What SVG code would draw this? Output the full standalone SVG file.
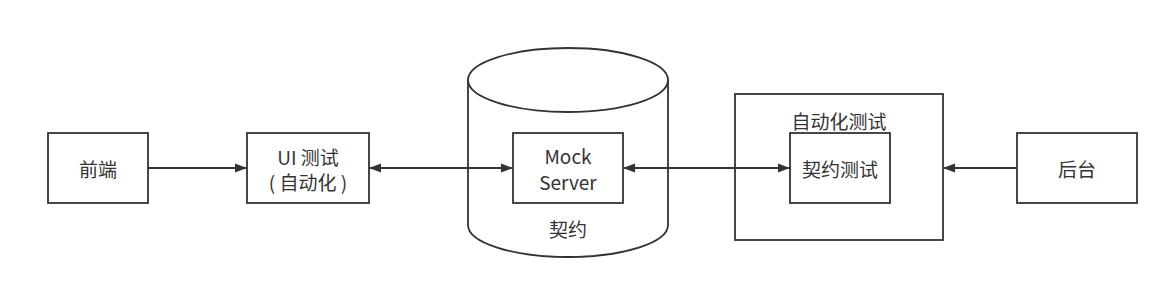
<svg xmlns="http://www.w3.org/2000/svg" width="1169" height="289" viewBox="0 0 1169 289">
<defs>
<style>
.b{fill:#fff;stroke:#333;stroke-width:1.8}
.t{font-family:"Noto Sans CJK SC","Noto Sans",sans-serif;font-size:19px;fill:#333;text-anchor:middle;dominant-baseline:central}
.c{fill:none;stroke:#333;stroke-width:1.8}
</style>
<marker id="a" viewBox="0 0 12 10" refX="12" refY="5" markerWidth="12" markerHeight="10" orient="auto-start-reverse" markerUnits="userSpaceOnUse">
<path d="M0,0.5 L12,5 L0,9.5 z" fill="#333"/>
</marker>
</defs>
<rect width="1169" height="289" fill="#fff"/>
<g id="db">
<path class="b" d="M468,80 L468,225 A100,32 0 0 0 668,225 L668,80"/>
<ellipse class="b" cx="568" cy="80" rx="100" ry="32"/>
<text class="t" x="568" y="228">契约</text>
</g>
<g id="auto">
<rect class="b" x="735" y="94" width="208" height="146"/>
<text class="t" x="839" y="120">自动化测试</text>
</g>
<g id="fe">
<rect class="b" x="48" y="133" width="100" height="70"/>
<text class="t" x="98" y="168">前端</text>
</g>
<g id="ui">
<rect class="b" x="247" y="133" width="122" height="70"/>
<text class="t" x="308" y="156">UI 测试</text>
<text class="t" x="308" y="181">( 自动化 )</text>
</g>
<g id="mock">
<rect class="b" x="513" y="133" width="110" height="70"/>
<text class="t" x="568" y="155">Mock</text>
<text class="t" x="568" y="181">Server</text>
</g>
<g id="ct">
<rect class="b" x="790" y="133" width="100" height="70"/>
<text class="t" x="840" y="168">契约测试</text>
</g>
<g id="be">
<rect class="b" x="1017" y="133" width="120" height="70"/>
<text class="t" x="1077" y="168">后台</text>
</g>
<g id="connectors">
<path class="c" d="M148,168 L247,168" marker-end="url(#a)"/>
<path class="c" d="M369,168 L513,168" marker-start="url(#a)" marker-end="url(#a)"/>
<path class="c" d="M623,168 L790,168" marker-start="url(#a)" marker-end="url(#a)"/>
<path class="c" d="M1017,168 L943,168" marker-end="url(#a)"/>
</g>
</svg>
